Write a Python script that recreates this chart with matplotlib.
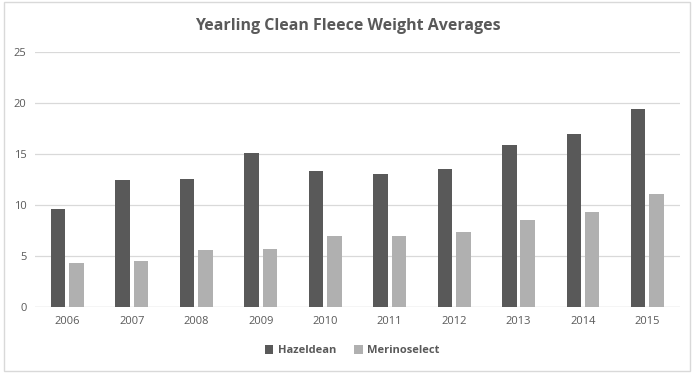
import numpy as np
import matplotlib.pyplot as plt
from matplotlib.patches import Rectangle

# --------------------------------------------------------------------------- #
#  Data
# --------------------------------------------------------------------------- #
years = ["2006", "2007", "2008", "2009", "2010",
         "2011", "2012", "2013", "2014", "2015"]
hazeldean = [9.6, 12.5, 12.6, 15.1, 13.4, 13.1, 13.6, 15.9, 17.0, 19.4]
merinoselect = [4.35, 4.55, 5.6, 5.7, 7.0, 7.0, 7.4, 8.55, 9.35, 11.1]

DARK = "#595959"
LIGHT = "#b0b0b0"
TEXT = "#595959"

plt.rcParams["font.family"] = ["Open Sans", "DejaVu Sans"]

fig = plt.figure(figsize=(7, 3.78), dpi=100)
ax = fig.add_axes([0.05, 0.187, 0.921, 0.675])

x = np.arange(len(years))
w = 0.225
ax.bar(x - 0.143, hazeldean, width=w, color=DARK, label="Hazeldean", zorder=3)
ax.bar(x + 0.143, merinoselect, width=w, color=LIGHT, label="Merinoselect", zorder=3)

ax.set_xlim(-0.5, len(years) - 0.5)
ax.set_ylim(0, 25)
ax.set_yticks(np.arange(0, 26, 5))
ax.set_xticks(x)
ax.set_xticklabels(years)
ax.grid(axis="y", color="#d9d9d9", linewidth=0.9, zorder=0)
ax.tick_params(length=0, labelsize=8, colors=TEXT, pad=6)
for s in ax.spines.values():
    s.set_visible(False)
ax.axhline(0, color="#d9d9d9", linewidth=0.9, zorder=2)

fig.text(0.497, 0.932, "Yearling Clean Fleece Weight Averages", ha="center",
         va="center", fontsize=11.5, color=TEXT, fontweight="bold")

leg = ax.legend(loc="center", bbox_to_anchor=(0.503, 0.072),
                bbox_transform=fig.transFigure, ncol=2, frameon=False,
                fontsize=8, handlelength=0.8, handleheight=0.8,
                columnspacing=1.6, handletextpad=0.4)
for t in leg.get_texts():
    t.set_color(TEXT)
    t.set_fontweight("bold")

# chart frame
fig.patches.append(Rectangle((0.006, 0.019), 0.98, 0.976, transform=fig.transFigure,
                             fill=False, edgecolor="#d9d9d9", linewidth=1))

fig.savefig("out.png", dpi=100)
